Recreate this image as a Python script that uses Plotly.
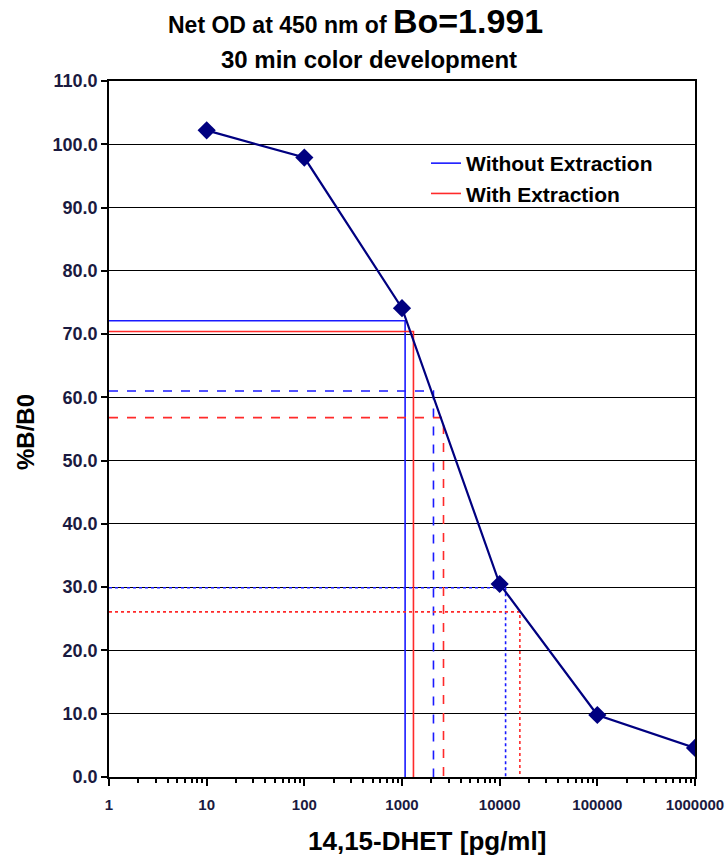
import plotly.graph_objects as go

conc = [10, 100, 1000, 10000, 100000, 1000000]
pct_b_b0 = [102.2, 97.9, 74.1, 30.5, 9.8, 4.6]

without_y = [72.1, 61.0, 29.9]
without_x = [1076, 2100, 11500]
with_y = [70.4, 56.8, 26.1]
with_x = [1310, 2660, 16100]
line_styles = ["solid", "dash", "dot"]

x_ticks = [1, 10, 100, 1000, 10000, 100000, 1000000]
x_tick_labels = ["1", "10", "100", "1000", "10000", "100000", "1000000"]
y_ticks = list(range(0, 111, 10))

FONT = "Liberation Sans, Arial, sans-serif"
BLUE = "#1a1aff"
RED = "#ff2a2a"
NAVY = "#000080"

W, H = 725, 856
PL, PR, PT, PB = 109, 695, 81, 777  # plot area in page pixels
PW, PH = PR - PL, PB - PT

fig = go.Figure()

def ref_traces(xs, ys, color, name):
    for i, (xv, yv, ds) in enumerate(zip(xs, ys, line_styles)):
        fig.add_trace(go.Scatter(
            x=[1, xv, xv], y=[yv, yv, 0], mode="lines",
            line=dict(color=color, width=1.6, dash=ds),
            name=name, showlegend=(i == 0), hoverinfo="skip"))

ref_traces(without_x, without_y, BLUE, "Without Extraction")
ref_traces(with_x, with_y, RED, "With Extraction")

fig.add_trace(go.Scatter(
    x=conc, y=pct_b_b0, mode="lines+markers",
    line=dict(color=NAVY, width=2.2),
    marker=dict(symbol="diamond", size=14, color=NAVY),
    showlegend=False))

def px(xp):
    return (xp - PL) / PW

def py(yp):
    return (PB - yp) / PH

fig.update_layout(
    width=W, height=H, autosize=False,
    margin=dict(l=PL, r=W - PR, t=PT, b=H - PB, autoexpand=False),
    paper_bgcolor="white", plot_bgcolor="white",
    font=dict(family=FONT, color="black"),
    legend=dict(x=px(426), y=py(143), xanchor="left", yanchor="top",
                bgcolor="rgba(0,0,0,0)",
                font=dict(size=21, family=FONT, color="black", weight="bold"),
                tracegroupgap=0, itemwidth=30),
)

fig.update_xaxes(
    type="log", range=[0, 6], automargin=False,
    tickvals=x_ticks, ticktext=x_tick_labels,
    ticks="outside", ticklen=7, tickwidth=1.5, tickcolor="black",
    tickfont=dict(size=15, family=FONT, color="#1a1a40", weight="bold"),
    showgrid=False, showline=True, linecolor="black", linewidth=2, mirror=True,
    minor=dict(ticks="outside", ticklen=4, tickwidth=1.5, tickcolor="black",
               dtick="D1", showgrid=False),
    ticklabelstandoff=6, ticklabeloverflow="allow",
    zeroline=False,
)
fig.update_yaxes(
    range=[0, 110], automargin=False, tickvals=y_ticks, tickformat=".1f",
    ticks="outside", ticklen=6, tickwidth=1.5, tickcolor="black",
    tickfont=dict(size=18, family=FONT, color="#1a1a40", weight="bold"),
    showgrid=True, gridcolor="black", gridwidth=1,
    showline=True, linecolor="black", linewidth=1.5, mirror=True,
    zeroline=False,
)

fig.add_annotation(
    text="Net OD at 450 nm of <span style='font-size:34px'>Bo=1.991</span>",
    xref="paper", yref="paper", x=px(355), y=py(21), xanchor="center", yanchor="middle",
    showarrow=False, font=dict(size=23, family=FONT, color="black", weight="bold"),
)
fig.add_annotation(
    text="30 min color development",
    xref="paper", yref="paper", x=px(369), y=py(59), xanchor="center", yanchor="middle",
    showarrow=False, font=dict(size=24, family=FONT, color="black", weight="bold"),
)
fig.add_annotation(
    text="%B/B0", xref="paper", yref="paper",
    x=px(25), y=py(432), textangle=-90,
    xanchor="center", yanchor="middle", showarrow=False,
    font=dict(size=24, family=FONT, color="black", weight="bold"),
)
fig.add_annotation(
    text="14,15-DHET [pg/ml]", xref="paper", yref="paper",
    x=px(427), y=py(841),
    xanchor="center", yanchor="middle", showarrow=False,
    font=dict(size=26, family=FONT, color="black", weight="bold"),
)

fig.write_html(
    "out.html",
    config=dict(responsive=False, displayModeBar=False),
    post_script="document.body.style.margin='0';document.body.style.overflow='hidden';",
)
